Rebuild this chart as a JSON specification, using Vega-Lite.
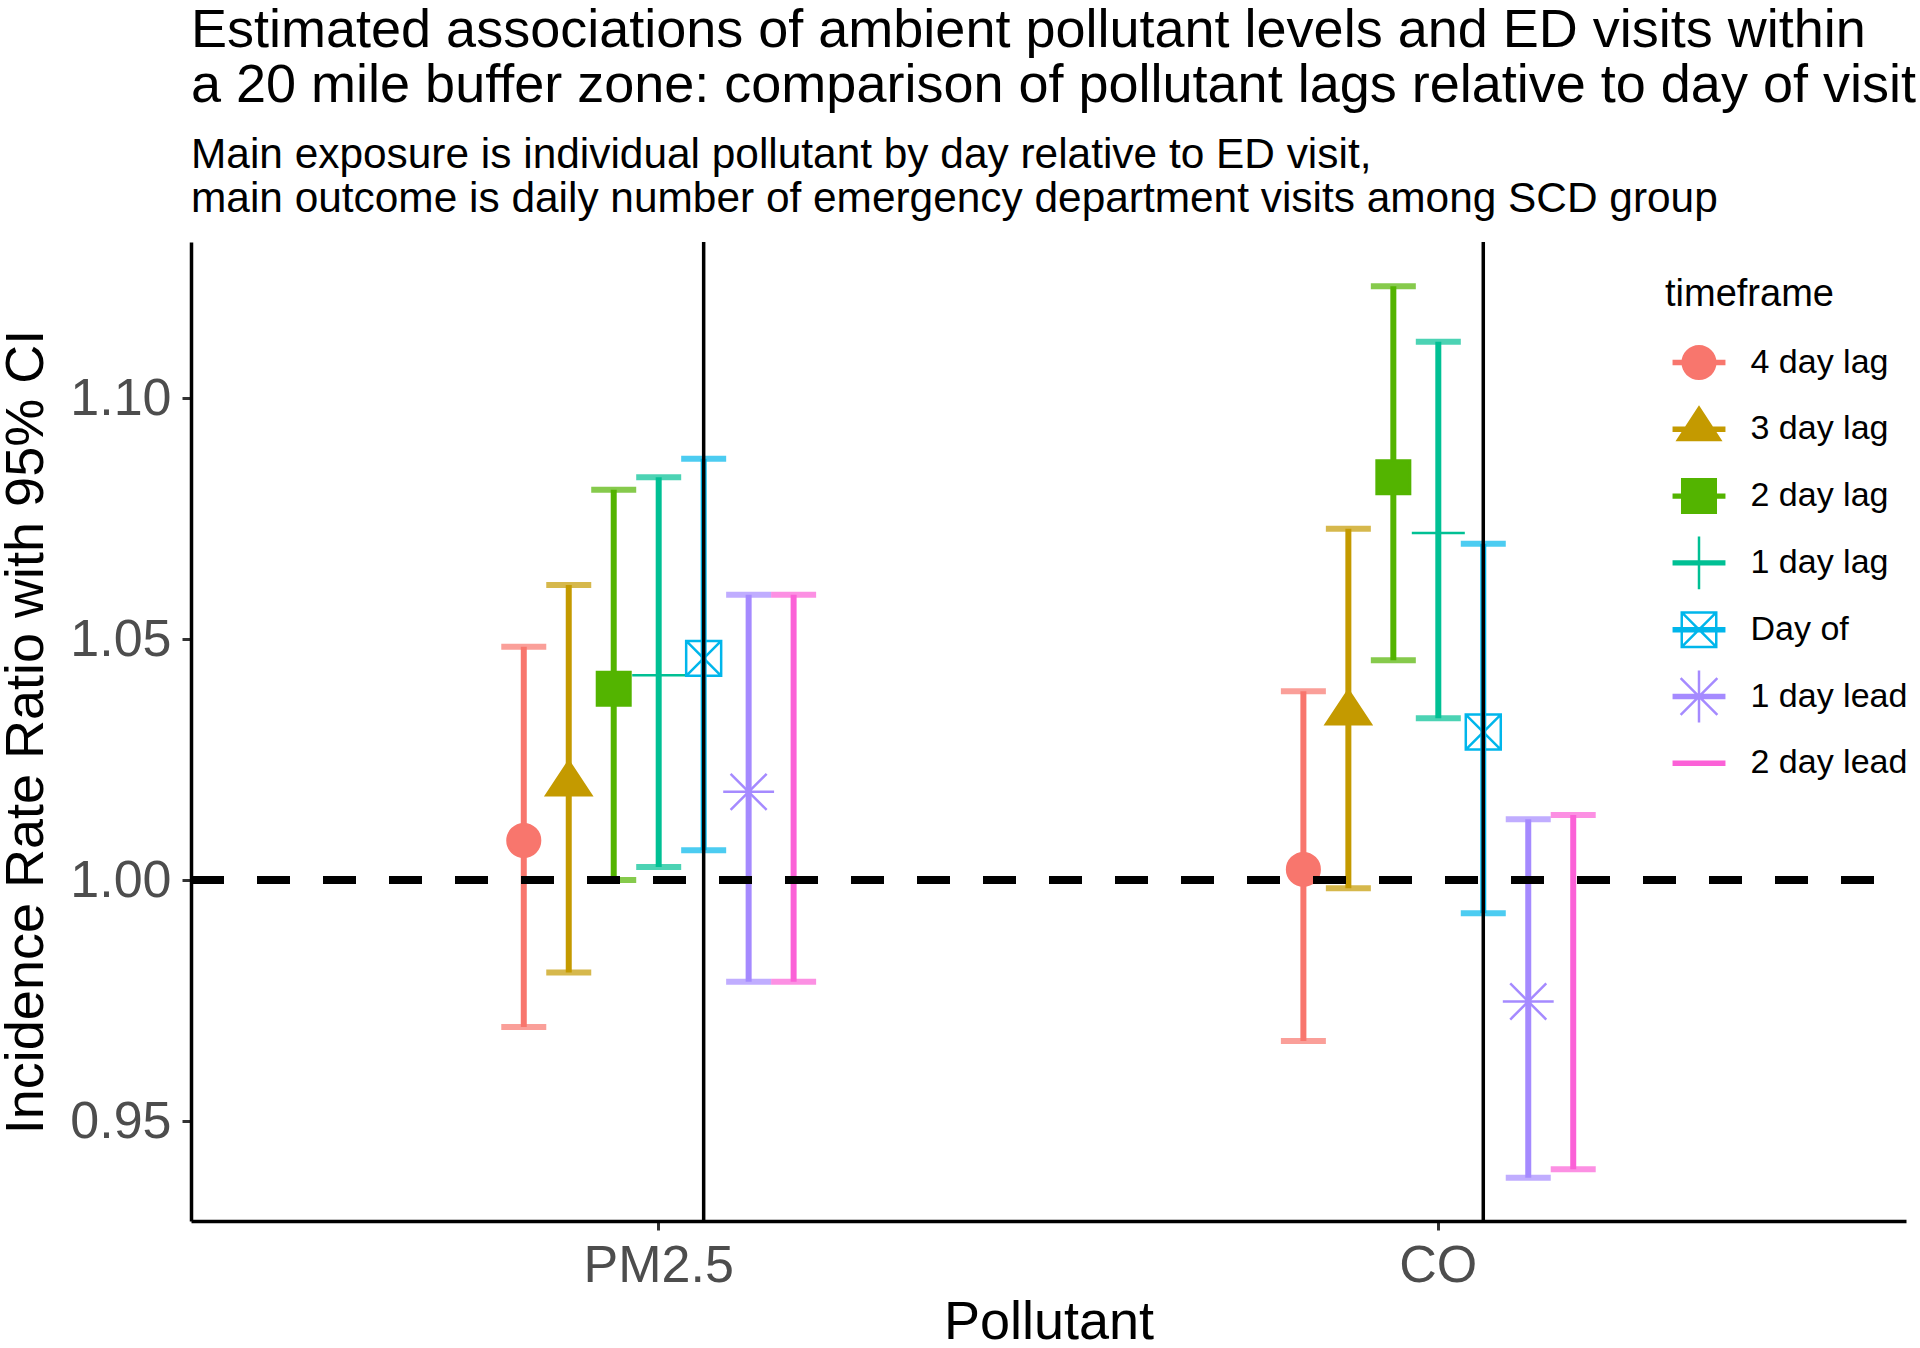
{
  "$schema": "https://vega.github.io/schema/vega-lite/v6.json",
  "autosize": "none",
  "width": 1715,
  "height": 979,
  "padding": {"left": 191, "top": 242, "right": 14, "bottom": 127},
  "background": "white",
  "title": {
    "text": ["Estimated associations of ambient pollutant levels and ED visits within", "a 20 mile buffer zone: comparison of pollutant lags relative to day of visit"],
    "subtitle": ["Main exposure is individual pollutant by day relative to ED visit,", "main outcome is daily number of emergency department visits among SCD group"],
    "anchor": "start",
    "frame": "group",
    "font": "Liberation Sans",
    "fontSize": 54,
    "fontWeight": "normal",
    "color": "black",
    "lineHeight": 55,
    "subtitleFont": "Liberation Sans",
    "subtitleFontSize": 42.4,
    "subtitleLineHeight": 44,
    "subtitleColor": "black",
    "subtitlePadding": 22.5,
    "offset": 19.5
  },
  "config": {
    "view": {"stroke": null},
    "axis": {
      "grid": false,
      "domainColor": "black",
      "domainWidth": 3.5,
      "tickColor": "#333333",
      "tickWidth": 3,
      "tickSize": 9,
      "labelFont": "Liberation Sans",
      "labelFontSize": 52,
      "labelColor": "#4D4D4D",
      "titleFont": "Liberation Sans",
      "titleFontSize": 54,
      "titleFontWeight": "normal",
      "titleColor": "black"
    }
  },
  "data": {
    "values": [
      {"pollutant": "PM2.5", "timeframe": "4 day lag", "irr": 1.0082, "lo": 0.9695, "hi": 1.0484},
      {"pollutant": "PM2.5", "timeframe": "3 day lag", "irr": 1.0199, "lo": 0.9808, "hi": 1.0612},
      {"pollutant": "PM2.5", "timeframe": "2 day lag", "irr": 1.0397, "lo": 1.0000, "hi": 1.0810},
      {"pollutant": "PM2.5", "timeframe": "1 day lag", "irr": 1.0425, "lo": 1.0027, "hi": 1.0836},
      {"pollutant": "PM2.5", "timeframe": "Day of", "irr": 1.0460, "lo": 1.0062, "hi": 1.0874},
      {"pollutant": "PM2.5", "timeframe": "1 day lead", "irr": 1.0183, "lo": 0.9789, "hi": 1.0592},
      {"pollutant": "PM2.5", "timeframe": "2 day lead", "irr": 1.0183, "lo": 0.9789, "hi": 1.0592},
      {"pollutant": "CO", "timeframe": "4 day lag", "irr": 1.0022, "lo": 0.9666, "hi": 1.0392},
      {"pollutant": "CO", "timeframe": "3 day lag", "irr": 1.0346, "lo": 0.9983, "hi": 1.0729},
      {"pollutant": "CO", "timeframe": "2 day lag", "irr": 1.0836, "lo": 1.0456, "hi": 1.1232},
      {"pollutant": "CO", "timeframe": "1 day lag", "irr": 1.0720, "lo": 1.0336, "hi": 1.1117},
      {"pollutant": "CO", "timeframe": "Day of", "irr": 1.0307, "lo": 0.9931, "hi": 1.0698},
      {"pollutant": "CO", "timeframe": "1 day lead", "irr": 0.9748, "lo": 0.9382, "hi": 1.0126},
      {"pollutant": "CO", "timeframe": "2 day lead", "irr": 0.9760, "lo": 0.9400, "hi": 1.0135}
    ]
  },
  "encoding": {
    "x": {
      "field": "pollutant",
      "type": "nominal",
      "sort": ["PM2.5", "CO"],
      "scale": {"paddingInner": 0.5962, "paddingOuter": 0.398},
      "axis": {"title": "Pollutant", "labelAngle": 0, "labelPadding": 10, "titlePadding": 4}
    },
    "xOffset": {
      "field": "timeframe",
      "type": "nominal",
      "sort": ["4 day lag", "3 day lag", "2 day lag", "1 day lag", "Day of", "1 day lead", "2 day lead"],
      "scale": {"domain": ["4 day lag", "3 day lag", "2 day lag", "1 day lag", "Day of", "1 day lead", "2 day lead"], "paddingInner": 0, "paddingOuter": 0}
    }
  },
  "layer": [
    {
      "mark": {"type": "rule", "strokeWidth": 6},
      "encoding": {
        "y": {
          "field": "lo",
          "type": "quantitative",
          "scale": {"domain": [0.92925, 1.1324], "nice": false, "zero": false},
          "axis": {"title": "Incidence Rate Ratio with 95% CI", "values": [0.95, 1.0, 1.05, 1.1], "format": ".2f", "labelPadding": 11, "titlePadding": 16}
        },
        "y2": {"field": "hi"},
        "color": {
          "field": "timeframe",
          "type": "nominal",
          "scale": {
            "domain": ["4 day lag", "3 day lag", "2 day lag", "1 day lag", "Day of", "1 day lead", "2 day lead"],
            "range": ["#F8766D", "#C49A00", "#53B400", "#00C094", "#00B6EB", "#A58AFF", "#FB61D7"]
          },
          "legend": {
            "title": "timeframe",
            "orient": "none",
            "legendX": 1474,
            "legendY": 34,
            "padding": 0,
            "titleFont": "Liberation Sans",
            "titleFontSize": 38,
            "titleFontWeight": "normal",
            "titleColor": "black",
            "titlePadding": 21.5,
            "labelFont": "Liberation Sans",
            "labelFontSize": 34,
            "labelColor": "black",
            "labelOffset": 24.5,
            "symbolSize": 2916,
            "symbolStrokeWidth": 2.5,
            "symbolOffset": 7,
            "rowPadding": 12.8,
            "encode": {
              "symbols": {
                "update": {
                  "shape": {"signal": "datum.value === '4 day lag' ? 'M-0.98,-0.1L0.98,-0.1L0.98,0.1L-0.98,0.1Z M0,-0.98L0,0.98 M-0.65,0A0.65,0.65,0,1,1,0.65,0A0.65,0.65,0,1,1,-0.65,0Z' : datum.value === '3 day lag' ? 'M-0.98,-0.1L0.98,-0.1L0.98,0.1L-0.98,0.1Z M0,-0.98L0,0.98 M0,-0.89L0.87,0.44L-0.87,0.44Z' : datum.value === '2 day lag' ? 'M-0.98,-0.1L0.98,-0.1L0.98,0.1L-0.98,0.1Z M0,-0.98L0,0.98 M-0.667,-0.667L0.667,-0.667L0.667,0.667L-0.667,0.667Z' : datum.value === '1 day lag' ? 'M-0.98,-0.1L0.98,-0.1L0.98,0.1L-0.98,0.1Z M-0.046,-0.98L0.046,-0.98L0.046,0.98L-0.046,0.98Z' : datum.value === 'Day of' ? 'M-0.98,-0.1L0.98,-0.1L0.98,0.1L-0.98,0.1Z M0,-0.98L0,0.98 M-0.685,-0.685L0.685,-0.685L0.685,-0.593L-0.685,-0.593Z M-0.685,0.593L0.685,0.593L0.685,0.685L-0.685,0.685Z M-0.685,-0.685L-0.593,-0.685L-0.593,0.685L-0.685,0.685Z M0.593,-0.685L0.685,-0.685L0.685,0.685L0.593,0.685Z M-0.6075,-0.6725L0.6725,0.6075L0.6075,0.6725L-0.6725,-0.6075Z M0.6725,-0.6075L-0.6075,0.6725L-0.6725,0.6075L0.6075,-0.6725Z' : datum.value === '1 day lead' ? 'M-0.98,-0.1L0.98,-0.1L0.98,0.1L-0.98,0.1Z M0,-0.98L0,0.98 M-0.046,-0.96L0.046,-0.96L0.046,0.96L-0.046,0.96Z M-0.6475,-0.7125L0.7125,0.6475L0.6475,0.7125L-0.7125,-0.6475Z M0.7125,-0.6475L-0.6475,0.7125L-0.7125,0.6475L0.6475,-0.7125Z' : 'M-0.98,-0.1L0.98,-0.1L0.98,0.1L-0.98,0.1Z M0,-0.98L0,0.98'"},
                  "fill": {"scale": "color", "field": "value"},
                  "stroke": {"value": "transparent"},
                  "strokeWidth": {"value": 0},
                  "size": {"value": 2916},
                  "opacity": {"value": 1}
                }
              }
            }
          }
        }
      }
    },
    {
      "mark": {"type": "tick", "size": 45, "thickness": 6},
      "encoding": {
        "y": {"field": "lo", "type": "quantitative"},
        "color": {"field": "timeframe", "type": "nominal"}
      }
    },
    {
      "mark": {"type": "tick", "size": 45, "thickness": 6},
      "encoding": {
        "y": {"field": "hi", "type": "quantitative"},
        "color": {"field": "timeframe", "type": "nominal"}
      }
    },
    {
      "transform": [{"filter": "datum.timeframe !== '2 day lead'"}],
      "mark": {"type": "point", "strokeWidth": 2.5, "opacity": 1, "size": 2809},
      "encoding": {
        "y": {"field": "irr", "type": "quantitative"},
        "shape": {
          "field": "timeframe",
          "type": "nominal",
          "scale": {
            "domain": ["4 day lag", "3 day lag", "2 day lag", "1 day lag", "Day of", "1 day lead"],
            "range": [
              "M-0.615,0A0.615,0.615,0,1,1,0.615,0A0.615,0.615,0,1,1,-0.615,0Z",
              "M0,-0.868L0.849,0.415L-0.849,0.415Z",
              "M-0.632,-0.632L0.632,-0.632L0.632,0.632L-0.632,0.632Z",
              "M-1,0L1,0M0,-1L0,1",
              "M-0.66,-0.66L0.66,-0.66L0.66,0.66L-0.66,0.66Z M-0.66,-0.66L0.66,0.66M0.66,-0.66L-0.66,0.66",
              "M-0.96,0L0.96,0M0,-0.96L0,0.96M-0.68,-0.68L0.68,0.68M0.68,-0.68L-0.68,0.68"
            ]
          },
          "legend": null
        },
        "fill": {
          "field": "timeframe",
          "type": "nominal",
          "scale": {
            "domain": ["4 day lag", "3 day lag", "2 day lag", "1 day lag", "Day of", "1 day lead"],
            "range": ["#F8766D", "#C49A00", "#53B400", "transparent", "transparent", "transparent"]
          },
          "legend": null
        },
        "stroke": {
          "field": "timeframe",
          "type": "nominal",
          "scale": {
            "domain": ["4 day lag", "3 day lag", "2 day lag", "1 day lag", "Day of", "1 day lead"],
            "range": ["#F8766D", "#C49A00", "#53B400", "#00C094", "#00B6EB", "#A58AFF"]
          },
          "legend": null
        }
      }
    },
    {
      "mark": {"type": "rule", "strokeWidth": 7, "strokeDash": [33, 33], "color": "black"},
      "encoding": {"y": {"datum": 1}, "x": {"value": 0}, "x2": {"value": 1715}, "xOffset": null}
    },
    {
      "transform": [{"filter": "datum.timeframe === 'Day of'"}],
      "mark": {"type": "rule", "strokeWidth": 3.5, "color": "black"},
      "encoding": {"y": {"value": 0}, "y2": {"value": 979}}
    }
  ]
}
